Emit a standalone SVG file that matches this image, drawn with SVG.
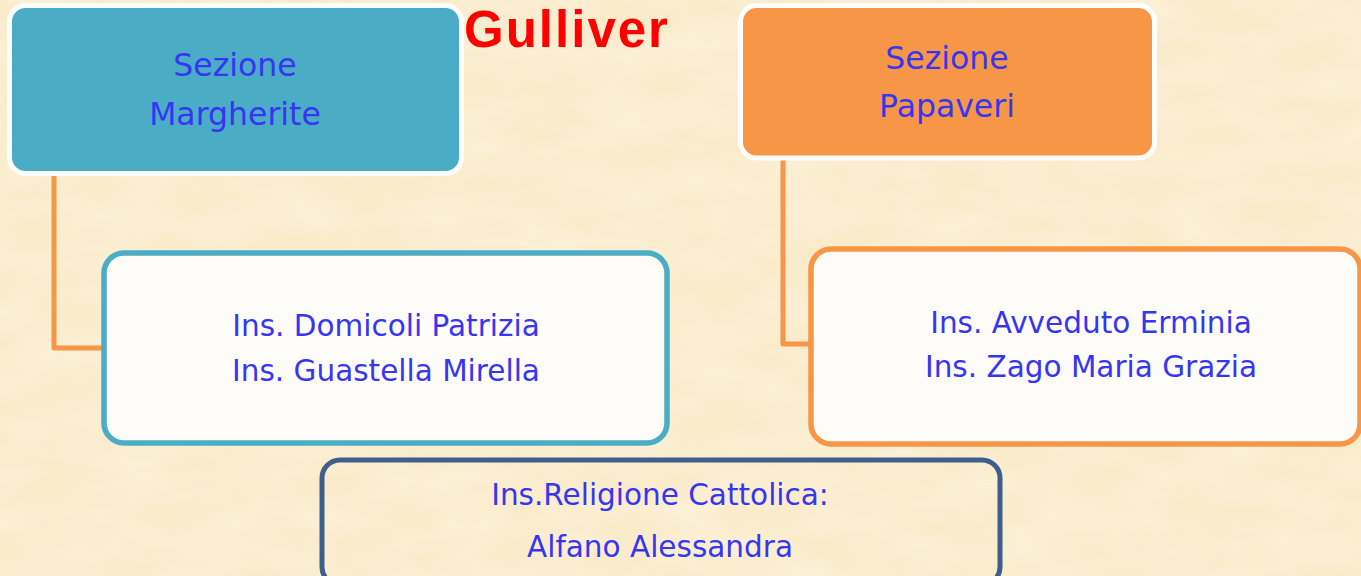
<svg xmlns="http://www.w3.org/2000/svg" width="1361" height="576" viewBox="0 0 1361 576">
  <defs>
    <filter id="paper" x="0" y="0" width="100%" height="100%">
      <feTurbulence type="fractalNoise" baseFrequency="0.012 0.03" numOctaves="3" seed="7" result="n"/>
      <feColorMatrix in="n" type="matrix" values="0 0 0 0 1  0 0 0 0 0.98  0 0 0 0 0.93  0 0 0 0.9 -0.3" result="c"/>
      <feComposite in="c" in2="SourceGraphic" operator="in"/>
    </filter>
    <style>
      .bg { fill: #FAEBCB; }
      .head { stroke: #FFFFFF; stroke-width: 5; }
      .teal { fill: #4BACC6; }
      .orange { fill: #F79646; }
      .card { fill: #FEFCF8; stroke-width: 5.5; }
      .card.t { stroke: #4BACC6; }
      .card.o { stroke: #F79646; }
      .note { fill: none; stroke: #3E5E8B; stroke-width: 5; }
      .conn { fill: none; stroke: #F79646; stroke-width: 5; stroke-linejoin: round; stroke-linecap: butt; }
      .lbl { font-family: "DejaVu Sans", Verdana, sans-serif; fill: #3636F2; text-anchor: middle; }
      .big { font-size: 31.5px; }
      .small { font-size: 29.5px; }
      .title { font-family: "Liberation Sans", Arial, sans-serif; font-weight: bold; font-size: 51px; letter-spacing: 2px; fill: #FF0000; text-anchor: middle; }
    </style>
  </defs>

  <rect class="bg" x="0" y="0" width="1361" height="576"/>
  <rect x="0" y="0" width="1361" height="576" fill="#FFFFFF" filter="url(#paper)" opacity="0.6"/>

  <g id="connectors">
    <path class="conn" d="M 54 176 V 348 H 104"/>
    <path class="conn" d="M 783 158 V 344 H 811"/>
  </g>

  <g id="title">
    <text class="title" x="567" y="47">Gulliver</text>
  </g>

  <g id="node-margherite">
    <rect class="head teal" x="9.5" y="5.5" width="452" height="168" rx="16"/>
    <text class="lbl big" x="235" y="76">Sezione</text>
    <text class="lbl big" x="235" y="125">Margherite</text>
  </g>

  <g id="node-papaveri">
    <rect class="head orange" x="740.5" y="5.5" width="414" height="152.5" rx="16"/>
    <text class="lbl big" x="947" y="69">Sezione</text>
    <text class="lbl big" x="947" y="117">Papaveri</text>
  </g>

  <g id="node-margherite-teachers">
    <rect class="card t" x="104" y="253" width="563" height="190" rx="20"/>
    <text class="lbl small" x="386" y="336">Ins. Domicoli Patrizia</text>
    <text class="lbl small" x="386" y="381">Ins. Guastella Mirella</text>
  </g>

  <g id="node-papaveri-teachers">
    <rect class="card o" x="811" y="249" width="549" height="195" rx="20"/>
    <text class="lbl small" x="1091" y="333">Ins. Avveduto Erminia</text>
    <text class="lbl small" x="1091" y="377">Ins. Zago Maria Grazia</text>
  </g>

  <g id="node-religione">
    <rect class="note" x="322" y="460" width="678" height="125" rx="18"/>
    <text class="lbl small" x="660" y="505">Ins.Religione Cattolica:</text>
    <text class="lbl small" x="660" y="557">Alfano Alessandra</text>
  </g>
</svg>
